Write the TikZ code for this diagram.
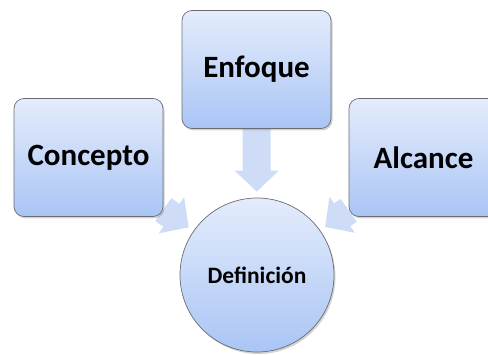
\documentclass[tikz,border=0pt]{standalone}
\usepackage{fontspec}
\setmainfont{Carlito}
\usetikzlibrary{arrows.meta,shadows,backgrounds}
\definecolor{cajaarriba}{RGB}{228,236,252}
\definecolor{cajaabajo}{RGB}{170,197,245}
\definecolor{borde}{RGB}{105,108,115}
\definecolor{flechaazul}{RGB}{206,220,248}

\begin{document}
\begin{tikzpicture}[x=1pt,y=1pt,
	caja/.style={draw=borde,line width=0.7pt,rounded corners=10pt,
		top color=cajaarriba,bottom color=cajaabajo,
		minimum width=149pt,minimum height=118pt,inner sep=0pt,
		font=\bfseries\fontsize{31}{36}\selectfont,
		drop shadow={shadow xshift=1.5pt,shadow yshift=-2pt,opacity=0.35}},
	flecha/.style={draw=flechaazul,line width=28pt,
		-{Triangle[width=43pt,length=21pt]},shorten >=6pt}]
	\useasboundingbox (0,0) rectangle (488,354);

	\node [caja,circle,minimum size=154pt,font=\bfseries\fontsize{23.5}{28}\selectfont] (def) at (257,79) {Definición};
	\node [caja] (concepto) at (88.5,196.5) {Concepto};
	\node [caja] (enfoque)  at (256.5,284.5) {Enfoque};
	\node [caja] (alcance)  at (423.5,196.5) {Alcance};

	% flechas detras de las cajas
	\begin{scope}[on background layer]
		\draw [flecha] (concepto) -- (def);
		\draw [flecha] (enfoque) -- (def);
		\draw [flecha] (alcance) -- (def);
	\end{scope}
\end{tikzpicture}
\end{document}
